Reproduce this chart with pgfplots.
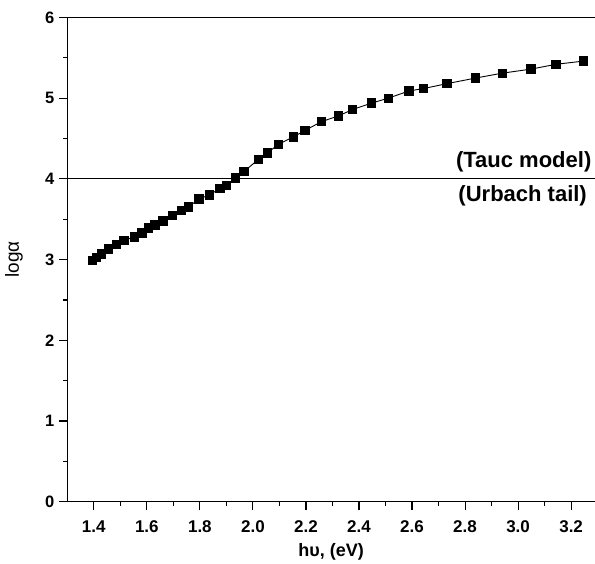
\documentclass[border=0pt]{standalone}
\usepackage{pgfplots}
\pgfplotsset{compat=1.18}
\usepackage{fontspec}
\setmainfont{Liberation Sans}
\pgfplotstableread{
x y
1.395 2.99
1.410 3.03
1.429 3.07
1.455 3.13
1.485 3.19
1.514 3.24
1.553 3.28
1.581 3.33
1.606 3.39
1.631 3.43
1.661 3.48
1.696 3.55
1.731 3.61
1.756 3.65
1.796 3.75
1.835 3.80
1.875 3.88
1.900 3.92
1.934 4.01
1.966 4.09
2.020 4.24
2.054 4.32
2.097 4.43
2.152 4.52
2.196 4.60
2.259 4.71
2.322 4.78
2.376 4.86
2.448 4.94
2.510 5.00
2.589 5.09
2.644 5.12
2.731 5.18
2.840 5.25
2.940 5.31
3.048 5.36
3.143 5.42
3.247 5.46
}\datatable
\begin{document}
\begin{tikzpicture}
\begin{axis}[
  scale only axis, width=527.7pt, height=484.2pt,
  xmin=1.3, xmax=3.29, ymin=0, ymax=6,
  axis x line*=bottom, axis y line*=left,
  xtick={1.4,1.6,1.8,2.0,2.2,2.4,2.6,2.8,3.0,3.2},
  xticklabels={1.4,1.6,1.8,2.0,2.2,2.4,2.6,2.8,3.0,3.2},
  minor x tick num=1,
  ytick={0,1,2,3,4,5,6},
  yticklabels={0,1,2,3,4,5,6},
  minor y tick num=1,
  tick align=outside,
  major tick length=8.5pt, minor tick length=4.5pt,
  tick style={line width=1.1pt, black},
  axis line style={line width=1.3pt, -},
  x axis line style={-}, y axis line style={-},
  xticklabel style={font=\fontsize{17}{17}\selectfont\bfseries, anchor=center, yshift=-16pt},
  yticklabel style={font=\fontsize{16.5}{16.5}\selectfont\bfseries, xshift=-1pt},
  xlabel={\textbf{hυ, (eV)}},
  ylabel={logα},
  xlabel style={font=\fontsize{18}{18}\selectfont, at={(axis description cs:0.5,0)}, anchor=center, yshift=-50pt},
  ylabel style={font=\fontsize{19}{19}\selectfont, at={(axis description cs:-0.101,0.5)}, anchor=center},
  clip=false,
]
\addplot[black, line width=0.9pt, mark=square*, mark size=4.2pt, mark options={solid, fill=black}] table[x=x, y=y] {\datatable};
\addplot[black, line width=1.1pt, forget plot] coordinates {(1.3,4) (3.29,4)};
\draw[line width=1.3pt] (rel axis cs:0,1) -- (rel axis cs:1,1);
\node[anchor=east, inner sep=0pt, font=\fontsize{22}{22}\selectfont\bfseries] at (axis cs:3.277,4.21) {(Tauc model)};
\node[anchor=east, inner sep=0pt, font=\fontsize{22}{22}\selectfont\bfseries] at (axis cs:3.26,3.79) {(Urbach tail)};
\end{axis}
\pgfresetboundingbox
\useasboundingbox (-67.3pt,-61.3pt) rectangle (527.7pt,501.7pt);
\end{tikzpicture}
\end{document}
